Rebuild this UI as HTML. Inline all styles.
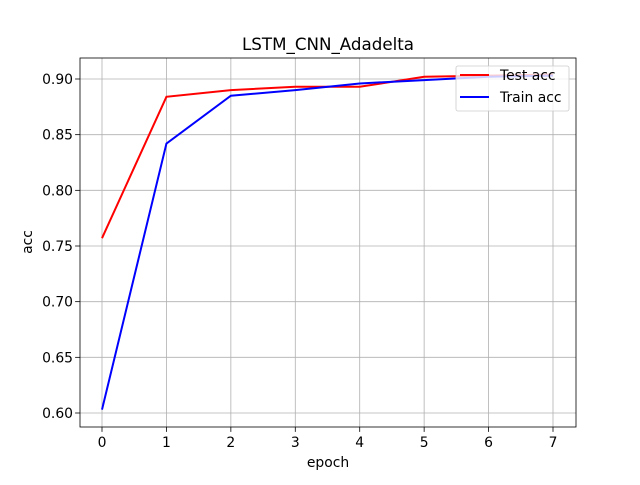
<!DOCTYPE html>
<html><head><meta charset="utf-8">
<style>
body{margin:0;background:#fff;}
svg text{font-family:"DejaVu Sans","Liberation Sans",sans-serif;}
</style></head>
<body>
<svg id="chart" width="640" height="480" xmlns="http://www.w3.org/2000/svg"></svg>
<script>
const epochs=[0,1,2,3,4,5,6,7];
const testAcc=[0.757,0.884,0.890,0.893,0.893,0.902,0.903,0.904];
const trainAcc=[0.603,0.842,0.885,0.890,0.896,0.899,0.902,0.903];
const xTicks=[0,1,2,3,4,5,6,7];
const yTicks=[0.60,0.65,0.70,0.75,0.80,0.85,0.90];

const L=80,R=576,T=58,B=427;
const xs=v=>102+(v-0)*(553-102)/7;
const ys=v=>413-(v-0.60)*(413-79)/0.30;
const svg=document.getElementById('chart');
const NS='http://www.w3.org/2000/svg';
function mk(tag,attrs,parent){const e=document.createElementNS(NS,tag);for(const k in attrs)e.setAttribute(k,attrs[k]);(parent||svg).appendChild(e);return e;}

const grid=mk('g',{});


xTicks.forEach(t=>{
  const x=xs(t);
  mk('line',{x1:x,x2:x,y1:T,y2:B,stroke:'#b0b0b0','stroke-width':0.8},grid);
  mk('line',{x1:x,x2:x,y1:B,y2:B+4.9,stroke:'#000','stroke-width':0.8},grid);
  const tx=mk('text',{x:x,y:B+20,'font-size':13.9,'text-anchor':'middle',fill:'#000'});
  tx.textContent=t;
  
  
});
yTicks.forEach(t=>{
  const y=ys(t);
  mk('line',{x1:L,x2:R,y1:y,y2:y,stroke:'#b0b0b0','stroke-width':0.8},grid);
  mk('line',{x1:L-4.9,x2:L,y1:y,y2:y,stroke:'#000','stroke-width':0.8},grid);
  const tx=mk('text',{x:L-7,y:y+5,'font-size':13.9,'text-anchor':'end',fill:'#000'});
  tx.textContent=t.toFixed(2);
  
  
});

function series(vals,color,name){
  const p=mk('polyline',{points:epochs.map((e,i)=>xs(e)+','+ys(vals[i])).join(' '),fill:'none',stroke:color,'stroke-width':2});
  
  
}
series(testAcc,'#ff0000','test-acc-line');
series(trainAcc,'#0000ff','train-acc-line');

const frame=mk('rect',{x:L,y:T,width:R-L,height:B-T,fill:'none',stroke:'#000','stroke-width':0.8});



const title=mk('text',{x:(L+R)/2,y:50,'font-size':16.7,'text-anchor':'middle'});
title.textContent='LSTM_CNN_Adadelta';


const xl=mk('text',{x:(L+R)/2,y:467,'font-size':13.9,'text-anchor':'middle'});
xl.textContent='epoch';


const yl=mk('text',{x:0,y:0,'font-size':13.9,'text-anchor':'middle',transform:'translate(32,242) rotate(-90)'});
yl.textContent='acc';



const lg=mk('g',{});


mk('rect',{x:456,y:66,width:113,height:45,rx:2,fill:'#fff','fill-opacity':0.8,stroke:'#ccc','stroke-width':0.8},lg);
mk('line',{x1:460,x2:489,y1:75,y2:75,stroke:'#ff0000','stroke-width':2},lg);
mk('line',{x1:460,x2:489,y1:97,y2:97,stroke:'#0000ff','stroke-width':2},lg);
const l1=mk('text',{x:500,y:80,'font-size':13.9},lg);l1.textContent='Test acc';


const l2=mk('text',{x:500,y:102,'font-size':13.9},lg);l2.textContent='Train acc';


</script>
</body></html>
